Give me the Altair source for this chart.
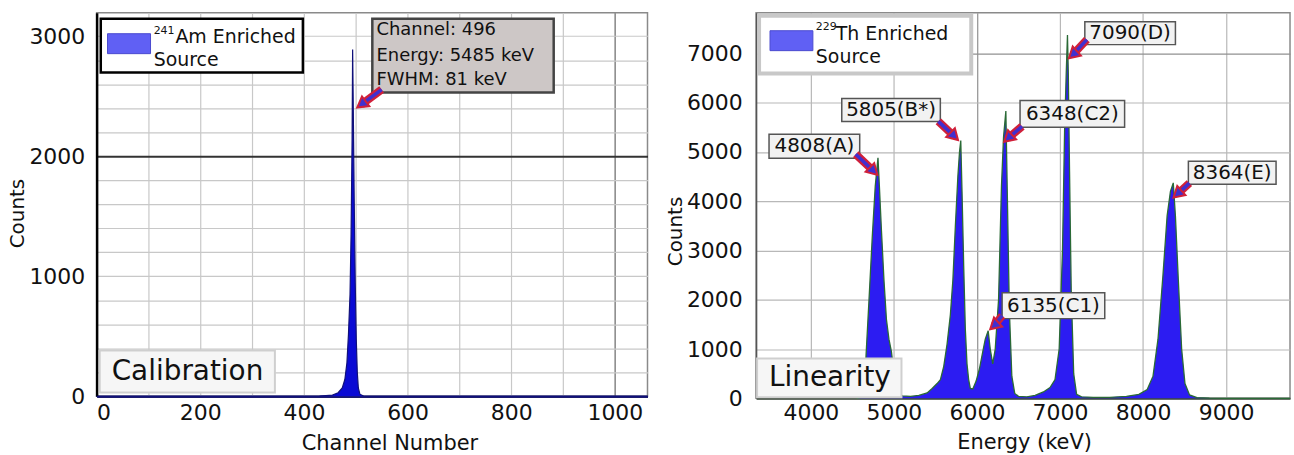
import altair as alt
import pandas as pd

FONT = "DejaVu Sans"

# ---------------- Calibration panel (241Am) ----------------
AM_CHANNEL = [0, 300, 430, 455, 466, 474, 479, 483, 486, 489, 491, 493, 494, 495, 497, 499, 501, 503, 505, 508, 515, 530, 1063]
AM_COUNTS = [0, 0, 2, 10, 30, 70, 140, 280, 520, 850, 1350, 2150, 2890, 2500, 1650, 950, 480, 200, 70, 18, 3, 0, 0]

AM_INFO_LINES = ["Channel: 496", "Energy: 5485 keV", "FWHM: 81 keV"]

# ---------------- Linearity panel (229Th) ----------------
TH_ENERGY = [
    4550, 4620, 4650, 4665, 4700, 4740, 4775, 4808, 4825, 4850, 4880, 4910, 4940, 4970, 5000, 5050, 5100,
    5200, 5300, 5400, 5460, 5520, 5560, 5600, 5640, 5680, 5710, 5740, 5770, 5790, 5805, 5820, 5840, 5860, 5880, 5900, 5920, 5950,
    5990, 6030, 6070, 6100, 6135, 6160, 6190, 6220, 6260, 6295, 6320, 6348, 6365, 6390, 6420, 6455, 6500, 6600,
    6700, 6800, 6880, 6940, 6990, 7030, 7055, 7075, 7090, 7100, 7115, 7135, 7165, 7200, 7260, 7400, 7600,
    7800, 7950, 8050, 8120, 8180, 8240, 8290, 8330, 8364, 8390, 8425, 8465, 8505, 8560, 8650, 8800, 9000, 9770]
TH_COUNTS = [
    0, 30, 300, 900, 2000, 3300, 4300, 4880, 4300, 3400, 2400, 1600, 1200, 950, 500, 150, 50,
    40, 60, 110, 200, 300, 380, 650, 1100, 1700, 2400, 3500, 4500, 5000, 5230, 4200, 2700, 1400, 700, 380, 200, 190,
    350, 600, 950, 1200, 1370, 1000, 700, 1000, 2000, 4300, 5300, 5830, 4200, 1800, 450, 100, 40, 30,
    60, 130, 220, 380, 1000, 3000, 5400, 6600, 7370, 6600, 4600, 2200, 500, 80, 30, 20, 20,
    40, 80, 180, 450, 1200, 2500, 3700, 4200, 4370, 3700, 2400, 1000, 300, 70, 15, 5, 0, 0]

PEAK_LABELS = ["4808(A)", "5805(B*)", "6348(C2)", "7090(D)", "8364(E)", "6135(C1)"]

# annotation placement (data units): label boxes and arrows
LBL_X1 = [3496, 4372, 6519, 7299, 8546, 6303]
LBL_X2 = [4588, 5559, 7778, 8390, 9602, 7539]
LBL_Y1 = [4871, 5618, 5497, 7175, 4345, 1617]
LBL_Y2 = [5356, 6083, 6043, 7639, 4810, 2142]
ARR_X1 = [4540, 5535, 6543, 7323, 8558, 6303]
ARR_Y1 = [4951, 5618, 5517, 7276, 4365, 1677]
ARR_X2 = [4756, 5727, 6375, 7155, 8414, 6207]
ARR_Y2 = [4608, 5315, 5275, 6972, 4143, 1475]
ARR_ANG = [135, 135, 228, 228, 228, 228]

# ---------------- scales / axes ----------------
L_W, L_H = 553, 385
R_W, R_H = 536, 387

XS_L = alt.Scale(domain=[0, 1063], nice=False, zero=False)
YS_L = alt.Scale(domain=[0, 3195], nice=False, zero=False)
XS_R = alt.Scale(domain=[3340, 9770], nice=False, zero=False)
YS_R = alt.Scale(domain=[0, 7820], nice=False, zero=False)

AX_XL = alt.Axis(
    values=list(range(0, 1001, 100)), format="d",
    labelExpr="datum.value % 200 == 0 ? datum.label : ''",
    grid=True, gridColor=alt.condition("datum.value == 1000", alt.value("#666666"), alt.value("#c8c8c8")),
    gridWidth=1.2, ticks=False, domainColor="#1a1a6e", domainWidth=2.5,
    labelFontSize=22, labelPadding=6, labelColor="#111",
    title="Channel Number", titleFontSize=21, titleFontWeight="normal", titleColor="#111",
    titleX=294, titleY=47, titleBaseline="middle", titleAlign="center",
)
AX_YL = alt.Axis(
    values=list(range(0, 3001, 200)), format="d",
    labelExpr="datum.value % 1000 == 0 ? datum.label : ''",
    grid=True, gridColor=alt.condition("datum.value == 2000", alt.value("#333333"), alt.value("#c8c8c8")),
    gridWidth=alt.condition("datum.value == 2000", alt.value(2), alt.value(1.2)),
    ticks=False, domainColor="#000000", domainWidth=2.5,
    labelFontSize=22, labelPadding=12, labelColor="#111",
    title="Counts", titleFontSize=20, titleFontWeight="normal", titleColor="#111",
    titleX=-79, titleY=201, titleAngle=270, titleBaseline="middle", titleAlign="center",
)
AX_XR = alt.Axis(
    values=list(range(4000, 9001, 1000)), format="d",
    grid=True, gridColor=alt.condition("datum.value == 6000", alt.value("#909090"), alt.value("#b8b8b8")),
    gridWidth=1.2, ticks=False, domainColor="#3c4a3c", domainWidth=2,
    labelFontSize=22, labelPadding=4, labelColor="#111",
    title="Energy (keV)", titleFontSize=21, titleFontWeight="normal", titleColor="#111",
    titleX=269, titleY=44, titleBaseline="middle", titleAlign="center",
)
AX_YR = alt.Axis(
    values=list(range(0, 7001, 1000)), format="d",
    grid=True, gridColor=alt.condition("datum.value == 7000", alt.value("#909090"), alt.value("#b8b8b8")),
    gridWidth=1.2, ticks=False, domainColor="#555555", domainWidth=1.5,
    labelFontSize=22, labelPadding=14, labelColor="#111",
    title="Counts", titleFontSize=20, titleFontWeight="normal", titleColor="#111",
    titleX=-81, titleY=219, titleAngle=270, titleBaseline="middle", titleAlign="center",
)


def XL(f):
    return alt.X(f, type="quantitative", scale=XS_L, axis=AX_XL)


def YL(f):
    return alt.Y(f, type="quantitative", scale=YS_L, axis=AX_YL)


def XR(f):
    return alt.X(f, type="quantitative", scale=XS_R, axis=AX_XR)


def YR(f):
    return alt.Y(f, type="quantitative", scale=YS_R, axis=AX_YR)


def rect_layer(df, X, Y, fill, stroke, sw):
    return alt.Chart(df).mark_rect(fill=fill, stroke=stroke, strokeWidth=sw, opacity=1).encode(
        x=X("x1"), x2=alt.X2("x2"), y=Y("y1"), y2=alt.Y2("y2"))


def text_layer(df, X, Y, size, color="#111", align="left"):
    return alt.Chart(df).mark_text(
        align=align, baseline="middle", font=FONT, fontSize=size, color=color
    ).encode(x=X("x"), y=Y("y"), text="t:N")


# ---------------- left panel layers ----------------
am_df = pd.DataFrame({"ch": AM_CHANNEL, "counts": AM_COUNTS})
am_area = alt.Chart(am_df).mark_area(
    color="#0a0ad4", opacity=1, fillOpacity=1,
    line={"color": "#10107a", "strokeWidth": 1.2}, interpolate="linear"
).encode(x=XL("ch"), y=YL("counts"))

l_leg_box = rect_layer(pd.DataFrame({"x1": [8], "x2": [398], "y1": [2697], "y2": [3145]}), XL, YL, "white", "#000000", 2.5)
l_leg_sw = rect_layer(pd.DataFrame({"x1": [21], "x2": [104], "y1": [2855], "y2": [3021]}), XL, YL, "#6060f4", "#4a4ad0", 1)
l_leg_sup = text_layer(pd.DataFrame({"x": [110], "y": [3040], "t": ["241"]}), XL, YL, 11)
l_leg_t1 = text_layer(pd.DataFrame({"x": [152], "y": [2996], "t": ["Am Enriched"]}), XL, YL, 19)
l_leg_t2 = text_layer(pd.DataFrame({"x": [110], "y": [2805], "t": ["Source"]}), XL, YL, 19)

l_info_box = rect_layer(pd.DataFrame({"x1": [532], "x2": [882], "y1": [2531], "y2": [3145]}), XL, YL, "#cdc7c6", "#444444", 2.5)
l_info_txt = text_layer(pd.DataFrame({"x": [540, 540, 540], "y": [3054, 2835, 2639], "t": AM_INFO_LINES}), XL, YL, 18)

l_arr_df = pd.DataFrame({"x1": [550], "y1": [2556], "x2": [511], "y2": [2432], "ang": [233]})
l_arr_red = alt.Chart(l_arr_df).mark_rule(color="#d0203a", strokeWidth=8).encode(x=XL("x1"), y=YL("y1"), x2=alt.X2("x2"), y2=alt.Y2("y2"))
l_arr_blue = alt.Chart(l_arr_df).mark_rule(color="#4030d0", strokeWidth=3.5).encode(x=XL("x1"), y=YL("y1"), x2=alt.X2("x2"), y2=alt.Y2("y2"))
l_arr_head = alt.Chart(l_arr_df).mark_point(shape="triangle-up", filled=True, fill="#4030d0", stroke="#d0203a",
                                             strokeWidth=2, size=150, opacity=1).encode(
    x=XL("x2"), y=YL("y2"), angle=alt.Angle("ang:Q", scale=None))

l_cal_box = rect_layer(pd.DataFrame({"x1": [6], "x2": [344], "y1": [33], "y2": [382]}), XL, YL, "#f6f6f6", "#cfcfcf", 2)
l_cal_txt = text_layer(pd.DataFrame({"x": [29], "y": [199], "t": ["Calibration"]}), XL, YL, 28)

left = alt.layer(
    am_area, l_leg_box, l_leg_sw, l_leg_sup, l_leg_t1, l_leg_t2,
    l_info_box, l_info_txt, l_arr_red, l_arr_blue, l_arr_head, l_cal_box, l_cal_txt,
).properties(width=L_W, height=L_H)

# ---------------- right panel layers ----------------
th_df = pd.DataFrame({"e": TH_ENERGY, "counts": TH_COUNTS})
th_area = alt.Chart(th_df).mark_area(
    color="#2c1cf2", opacity=1, fillOpacity=1,
    line={"color": "#2a6a36", "strokeWidth": 1.3}, interpolate="linear"
).encode(x=XR("e"), y=YR("counts"))

r_leg_box = rect_layer(pd.DataFrame({"x1": [3376], "x2": [5931], "y1": [6589], "y2": [7760]}), XR, YR, "white", "#c8c8c8", 4)
r_leg_sw = rect_layer(pd.DataFrame({"x1": [3508], "x2": [4024], "y1": [7053], "y2": [7457]}), XR, YR, "#6060f4", "#4a4ad0", 1)
r_leg_sup = text_layer(pd.DataFrame({"x": [4060], "y": [7540], "t": ["229"]}), XR, YR, 11)
r_leg_t1 = text_layer(pd.DataFrame({"x": [4300], "y": [7397], "t": ["Th Enriched"]}), XR, YR, 19)
r_leg_t2 = text_layer(pd.DataFrame({"x": [4060], "y": [6932], "t": ["Source"]}), XR, YR, 19)

lbl_df = pd.DataFrame({
    "x1": LBL_X1, "x2": LBL_X2, "y1": LBL_Y1, "y2": LBL_Y2, "t": PEAK_LABELS,
})
lbl_df["x"] = (lbl_df["x1"] + lbl_df["x2"]) / 2
lbl_df["y"] = (lbl_df["y1"] + lbl_df["y2"]) / 2
r_lbl_box = rect_layer(lbl_df, XR, YR, "#f2f2f2", "#555555", 1.5)
r_lbl_txt = text_layer(lbl_df, XR, YR, 20, align="center")

arr_df = pd.DataFrame({"x1": ARR_X1, "y1": ARR_Y1, "x2": ARR_X2, "y2": ARR_Y2, "ang": ARR_ANG})
r_arr_red = alt.Chart(arr_df).mark_rule(color="#d0203a", strokeWidth=8).encode(x=XR("x1"), y=YR("y1"), x2=alt.X2("x2"), y2=alt.Y2("y2"))
r_arr_blue = alt.Chart(arr_df).mark_rule(color="#4030d0", strokeWidth=3.5).encode(x=XR("x1"), y=YR("y1"), x2=alt.X2("x2"), y2=alt.Y2("y2"))
r_arr_head = alt.Chart(arr_df).mark_point(shape="triangle-up", filled=True, fill="#4030d0", stroke="#d0203a",
                                          strokeWidth=2, size=150, opacity=1).encode(
    x=XR("x2"), y=YR("y2"), angle=alt.Angle("ang:Q", scale=None))

r_lin_box = rect_layer(pd.DataFrame({"x1": [3352], "x2": [5091], "y1": [20], "y2": [808]}), XR, YR, "#f6f6f6", "#cfcfcf", 2)
r_lin_txt = text_layer(pd.DataFrame({"x": [3496], "y": [404], "t": ["Linearity"]}), XR, YR, 28)

right = alt.layer(
    th_area, r_leg_box, r_leg_sw, r_leg_sup, r_leg_t1, r_leg_t2,
    r_lbl_box, r_lbl_txt, r_arr_red, r_arr_blue, r_arr_head, r_lin_box, r_lin_txt,
).properties(width=R_W, height=R_H)

chart = alt.hconcat(left, right, spacing=109, bounds="flush").properties(
    padding={"left": 7, "top": 11, "right": 0, "bottom": 0},
    background="white",
).configure_view(
    stroke="#8a8a8a", strokeWidth=1.5
).configure_axis(
    labelFont=FONT, titleFont=FONT
).configure_text(font=FONT)

chart.save("out.html", embed_options={"renderer": "svg", "actions": False})
